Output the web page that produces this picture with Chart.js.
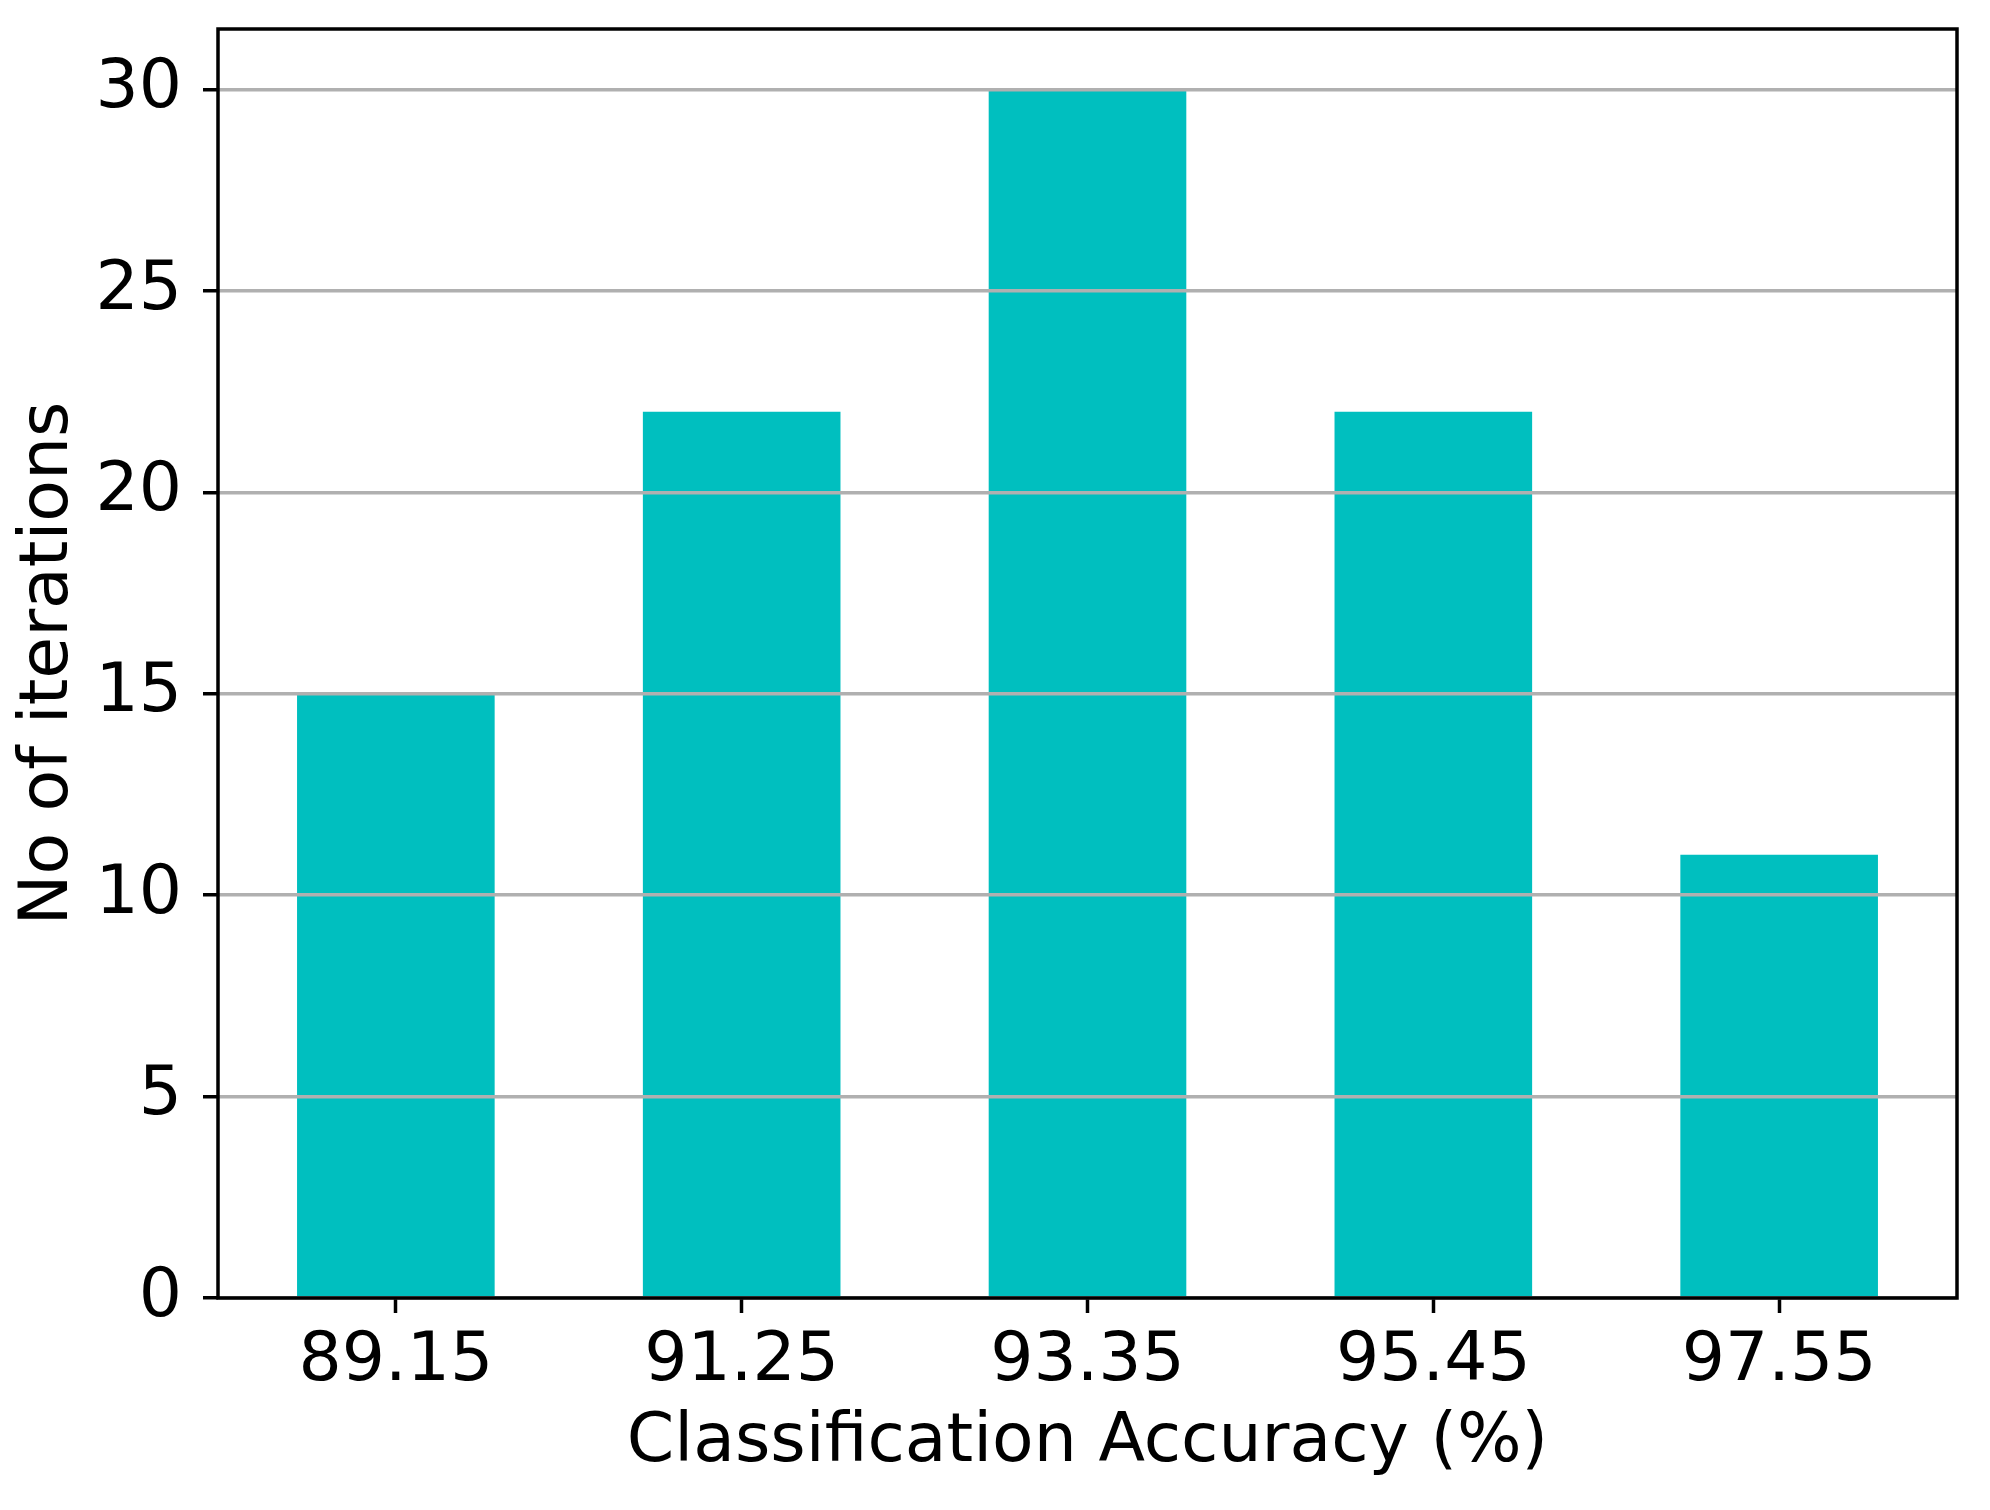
<!DOCTYPE html>
<html>
<head>
<meta charset="utf-8">
<script src="https://cdn.jsdelivr.net/npm/chart.js@4/dist/chart.umd.min.js"></script>
<style>
  html, body { margin: 0; padding: 0; background: #ffffff; }
  #wrap { width: 1990px; height: 1510px; }
</style>
</head>
<body>
<div id="wrap"><canvas id="c" width="1990" height="1510"></canvas></div>
<script>
// ---- data ----
const categories = ['89.15', '91.25', '93.35', '95.45', '97.55'];
const iterations = [15, 22, 30, 22, 11];
const yTicks = [0, 5, 10, 15, 20, 25, 30];
const xTitle = 'Classification Accuracy (%)';
const yTitle = 'No of iterations';

const xValues = categories.map(Number);
const binWidth = 1.2;      // bar width in data units
const binStep = 2.1;       // spacing between bars in data units
const span = xValues[xValues.length - 1] - xValues[0] + binWidth;
const xMin = xValues[0] - binWidth / 2 - 0.05 * span;
const xMax = xValues[xValues.length - 1] + binWidth / 2 + 0.05 * span;
const yMax = 31.5;

const FONT = { family: 'DejaVu Sans', size: 68, lineHeight: 1.2 };
const LW = 3.5;

const framePlugin = {
  id: 'frame',
  afterDraw(chart) {
    const { ctx, chartArea: a } = chart;
    ctx.save();
    ctx.strokeStyle = '#000000';
    ctx.lineWidth = LW;
    ctx.lineJoin = 'miter';
    ctx.strokeRect(a.left, a.top, a.right - a.left, a.bottom - a.top);
    ctx.restore();
  }
};

new Chart(document.getElementById('c'), {
  type: 'bar',
  data: {
    datasets: [{
      data: xValues.map((x, i) => ({ x: x, y: iterations[i] })),
      backgroundColor: '#00bfbf',
      borderWidth: 0,
      categoryPercentage: 1.0,
      barPercentage: binWidth / binStep
    }]
  },
  options: {
    responsive: false,
    devicePixelRatio: 1,
    animation: false,
    layout: { padding: { top: 29, right: 33, left: 0, bottom: 0 } },
    plugins: { legend: { display: false }, tooltip: { enabled: false } },
    scales: {
      x: {
        type: 'linear',
        min: xMin,
        max: xMax,
        offset: false,
        afterBuildTicks(scale) { scale.ticks = xValues.map(v => ({ value: v })); },
        afterFit(scale) {
          scale.height = 1510 - 1298;
          scale.paddingLeft = 0; scale.paddingRight = 0;
        },
        border: { display: false },
        grid: {
          offset: false,
          z: 1,
          drawOnChartArea: false,
          drawTicks: true,
          tickLength: 15,
          tickWidth: LW,
          tickColor: '#000000'
        },
        ticks: {
          color: '#000000',
          font: FONT,
          padding: 9,
          maxRotation: 0,
          autoSkip: false,
          callback(value) {
            const i = xValues.findIndex(v => Math.abs(v - value) < 1e-6);
            return i >= 0 ? categories[i] : '';
          }
        },
        title: {
          display: true,
          text: xTitle,
          color: '#000000',
          font: FONT,
          padding: { top: 0, bottom: 26 }
        }
      },
      y: {
        min: 0,
        max: yMax,
        afterBuildTicks(scale) { scale.ticks = yTicks.map(v => ({ value: v })); },
        afterFit(scale) {
          scale.width = 218;
          scale.paddingTop = 0; scale.paddingBottom = 0;
        },
        border: { display: false },
        grid: {
          z: 1,
          color: '#b0b0b0',
          lineWidth: LW,
          drawTicks: true,
          tickLength: 15,
          tickWidth: LW,
          tickColor: '#000000'
        },
        ticks: {
          color: '#000000',
          font: FONT,
          padding: 21,
          callback(value) { return String(value); }
        },
        title: {
          display: true,
          text: yTitle,
          color: '#000000',
          font: FONT,
          padding: { top: 9, bottom: 0 }
        }
      }
    }
  },
  plugins: [framePlugin]
});
</script>
</body>
</html>
